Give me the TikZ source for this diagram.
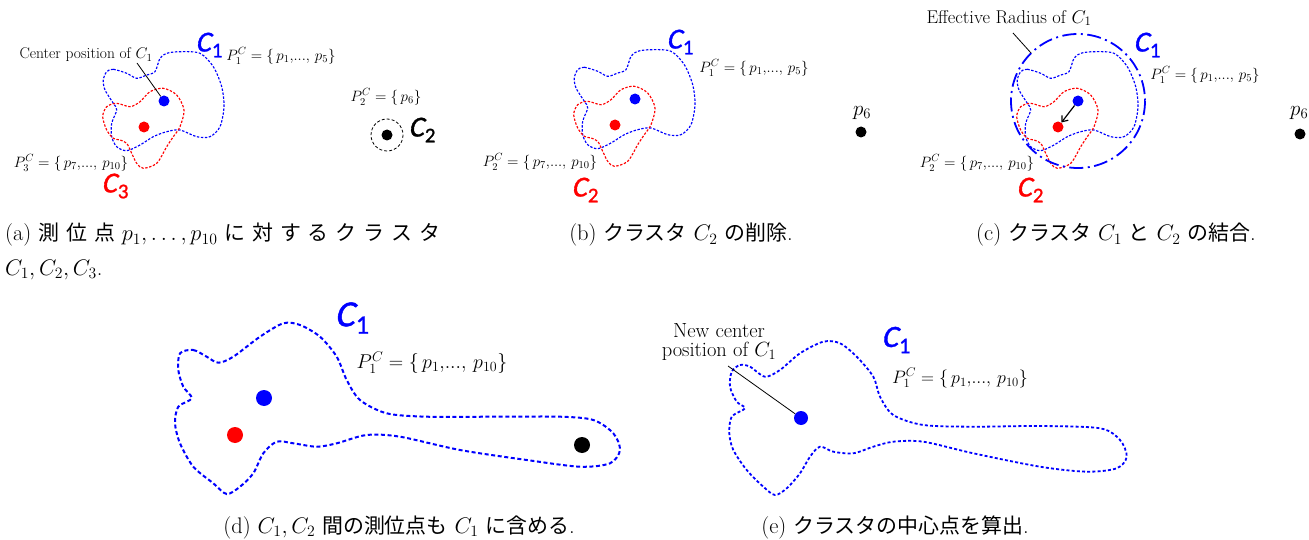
\documentclass[tikz,border=0pt]{standalone}
\usepackage{fix-cm}
\usepackage{fontspec}
\newfontfamily\jp{Noto Sans CJK JP}[Scale=0.93]
\newfontfamily\carlC{Carlito}[FakeSlant=0.2, FakeBold=1.2]
\newfontfamily\carlN{Carlito}[FakeBold=1.2]
\usetikzlibrary{arrows.meta}
\newcommand\BC[1]{{\carlC C}\kern0.03em\raisebox{-0.2em}{\carlN\scalebox{0.72}{#1}}}
\newcommand\fs[1]{\fontsize{#1}{#1}\selectfont}
\tikzset{
  cl/.style={dash pattern=on 2.4pt off 1.6pt, line width=1.15pt},
  dotnode/.style={circle, fill, inner sep=0pt, minimum size=11pt},
  bigc/.style={inner sep=0pt, font=\fs{29}},
  pset/.style={inner sep=0pt, font=\fs{15}},
  captxt/.style={inner sep=0pt, font=\fs{22.5}},
  notetext/.style={inner sep=0pt, align=center},
  eff/.style={blue, line width=1.8pt, dash pattern=on 14pt off 4.5pt on 2pt off 4.5pt},
  blueA/.style={insert path={plot[smooth cycle,tension=0.5] coordinates{
    (106.7,71.7) (113.3,69.3) (126.7,73.3) (136.7,78.3) (146.7,75) (155,71.7)
    (160,58.3) (166.7,53.3) (180,51.7) (200,53.3) (213.3,66.7) (221.7,86.7)
    (224,106.7) (220,126.7) (210,136.7) (196.7,136.7) (180,130) (166.7,131.7)
    (153.3,136.7) (140,145) (126.7,150.7) (116.7,146.7) (111.7,136.7) (111.7,123.3)
    (116.7,110) (113.3,103.3) (105,90) (103.3,80)}}},
  redA/.style={insert path={plot[smooth cycle,tension=0.5] coordinates{
    (106.7,106.7) (116.7,103.3) (130,106.7) (140,101.7) (150,91.7) (163.3,88.3)
    (176.7,95) (184,110) (180,126.7) (173.3,136.7) (166.7,146.7) (156.7,163.3)
    (143.3,168.3) (136.7,163.3) (131.7,153.3) (126.7,143.3) (120,140) (113.3,138.3)
    (106.7,130) (102.7,116.7)}}},
}
\begin{document}
\begin{tikzpicture}[x=1pt,y=-1pt]
\useasboundingbox (0,0) rectangle (1309,540);

% ---------- common blobs of (a), (b), (c)
\begin{scope}[name prefix=a-]
  \draw[cl,blue,blueA];
  \draw[cl,red,redA];
  \node[dotnode,blue] (bd) at (164,101) {};
  \node[dotnode,red] (rd) at (144,127) {};
\end{scope}
\begin{scope}[shift={(471,-2)},name prefix=b-]
  \draw[cl,blue,blueA];
  \draw[cl,red,redA];
  \node[dotnode,blue] (bd) at (164,101) {};
  \node[dotnode,red] (rd) at (144,127) {};
\end{scope}
\begin{scope}[shift={(914,0)},name prefix=c-]
  \draw[cl,blue,blueA];
  \draw[cl,red,redA];
  \node[dotnode,blue] (bd) at (164,101) {};
  \node[dotnode,red] (rd) at (144,127) {};
\end{scope}

% ---------- (a)
\node[notetext,font=\fs{15.5}] (a-cp) at (86,55) {Center position of $C_1$};
\coordinate (a-cpl) at (137,63);
\draw[line width=0.8pt] (a-cpl) -- (a-bd);
\node[bigc,blue] (a-c1) at (209,45) {\BC{1}};
\node[pset] (a-p1) at (281,56) {$P_1^C=\{\,p_1,\!...,\,p_5\}$};
\node[pset] (a-p2) at (386,97) {$P_2^C=\{\,p_6\}$};
\node[dotnode] (a-c2d) at (387,135) {};
\draw[densely dashed, line width=0.8pt] (a-c2d.center) circle[radius=16];
\node[bigc] (a-c2) at (422,130) {\BC{2}};
\node[pset] (a-p3) at (71,163) {$P_3^C=\{\,p_7,\!...,\,p_{10}\}$};
\node[bigc,red] (a-c3) at (115,186) {\BC{3}};

% ---------- (b)
\node[bigc,blue] (b-c1) at (680,42) {\BC{1}};
\node[pset] (b-p1) at (754,68) {$P_1^C=\{\,p_1,\!...,\,p_5\}$};
\node[pset] (b-p2) at (540,162) {$P_2^C=\{\,p_7,\!...,\,p_{10}\}$};
\node[bigc,red] (b-c2) at (585,190) {\BC{2}};
\node[pset,font=\fs{21}] (b-p6t) at (862,113) {$p_6$};
\node[dotnode] (b-p6) at (861,132) {};

% ---------- (c)
\draw[eff] (c-bd.center) circle[radius=67];
\node[notetext,font=\fs{18.5}] (c-er) at (1009,18) {Effective Radius of $C_1$};
\coordinate (c-erl1) at (1013,33);
\coordinate (c-erl2) at (1031,53);
\draw[line width=0.8pt] (c-erl1) -- (c-erl2);
\draw[line width=1.2pt,-{Straight Barb[length=5pt,width=8pt]}] (c-bd) -- (c-rd);
\node[bigc,blue] (c-c1) at (1147,45) {\BC{1}};
\node[pset] (c-p1) at (1205,75) {$P_1^C=\{\,p_1,\!...,\,p_5\}$};
\node[pset] (c-p2) at (977,163) {$P_2^C=\{\,p_7,\!...,\,p_{10}\}$};
\node[bigc,red] (c-c2) at (1030,190) {\BC{2}};
\node[pset,font=\fs{21},anchor=west] (c-p6t) at (1290,113) {$p_6$};
\node[dotnode] (c-p6) at (1300,134) {};

% ---------- (d)
\draw[blue, line width=2pt, dash pattern=on 4pt off 2.6pt]
  plot[smooth cycle,tension=0.5] coordinates{
  (180,353.3) (193.3,350) (206.7,356.7) (218.3,362.7) (233.3,356.7) (260,336.7)
  (283.3,323.3) (300,325) (320,336.7) (336.7,356.7) (346.7,380) (360,400)
  (386.7,413.3) (426.7,416.7) (493.3,416.7) (560,416.7) (593.3,420) (613.3,433.3)
  (620,450) (610,463.3) (580,466.7) (526.7,460) (460,450) (400,436.7)
  (366.7,435) (336.7,443.3) (316.7,446.7) (293.3,443.3) (276.7,441.7) (263.3,453.3)
  (253.3,473.3) (240,486.7) (226.7,494) (213.3,483.3) (193.3,466.7) (180,443.3)
  (175,423.3) (178.3,406.7) (191.7,398.3) (183.3,386.7) (178.3,370)};
\node[dotnode,blue,minimum size=16pt] (d-bd) at (264,398) {};
\node[dotnode,red,minimum size=16pt] (d-rd) at (235,435) {};
\node[dotnode,minimum size=16pt] (d-kd) at (582,445) {};
\node[bigc,blue,font=\fs{37}] (d-c1) at (352,318) {\BC{1}};
\node[pset,font=\fs{20}] (d-p1) at (432,363) {$P_1^C=\{\,p_1,\!...,\,p_{10}\}$};

% ---------- (e)
\draw[blue, line width=1.8pt, dash pattern=on 3pt off 2.2pt]
  plot[smooth cycle,tension=0.5] coordinates{
  (731.7,371.7) (740,365) (750,366.7) (765,376.7) (780,370) (800,353.3)
  (823.3,341.7) (840,343.3) (856.7,356.7) (873.3,376.7) (880,396.7) (893.3,415)
  (923.3,425) (973.3,426.7) (1040,426) (1100,428.3) (1120,440) (1126.7,456.7)
  (1116.7,468.3) (1086.7,471.7) (1040,466.7) (973.3,453.3) (923.3,441.7) (893.3,441.7)
  (873.3,446.7) (853.3,453.3) (833.3,451.7) (820,446.7) (810,456.7) (800,473.3)
  (786.7,488.3) (775,495) (763.3,486.7) (746.7,470) (733.3,450) (729.3,433.3)
  (731.7,416.7) (745,408.3) (736.7,401.7) (730,386.7)};
\node[dotnode,blue,minimum size=14pt] (e-bd) at (801,418) {};
\node[notetext,font=\fs{20.5}] (e-nc) at (719,342) {New center\\[-1pt]position of $C_1$};
\coordinate (e-ncl) at (728,366);
\draw[line width=0.8pt] (e-ncl) -- (e-bd);
\node[bigc,blue,font=\fs{31}] (e-c1) at (896,340) {\BC{1}};
\node[pset,font=\fs{18}] (e-p1) at (960,378) {$P_1^C=\{\,p_1,\!...,\,p_{10}\}$};

% ---------- captions
\node[captxt,anchor=west] (capa1) at (5,235) {\hbox to 435pt{(a)\hfill{\jp 測}\hfill{\jp 位}\hfill{\jp 点}\hfill$p_1,\ldots,p_{10}$\hfill{\jp に}\hfill{\jp 対}\hfill{\jp す}\hfill{\jp る}\hfill{\jp ク}\hfill{\jp ラ}\hfill{\jp ス}\hfill{\jp タ}}};
\node[captxt,anchor=west] (capa2) at (5,270) {$C_1,C_2,C_3$.};
\node[captxt] (capb) at (681,235) {(b) {\jp クラスタ} $C_2$ {\jp の削除}.};
\node[captxt] (capc) at (1116,235) {(c) {\jp クラスタ} $C_1$ {\jp と} $C_2$ {\jp の結合}.};
\node[captxt] (capd) at (399,527) {(d) $C_1,C_2$ {\jp 間の測位点も} $C_1$ {\jp に含める}.};
\node[captxt] (cape) at (895,527) {(e) {\jp クラスタの中心点を算出}.};
\end{tikzpicture}
\end{document}
